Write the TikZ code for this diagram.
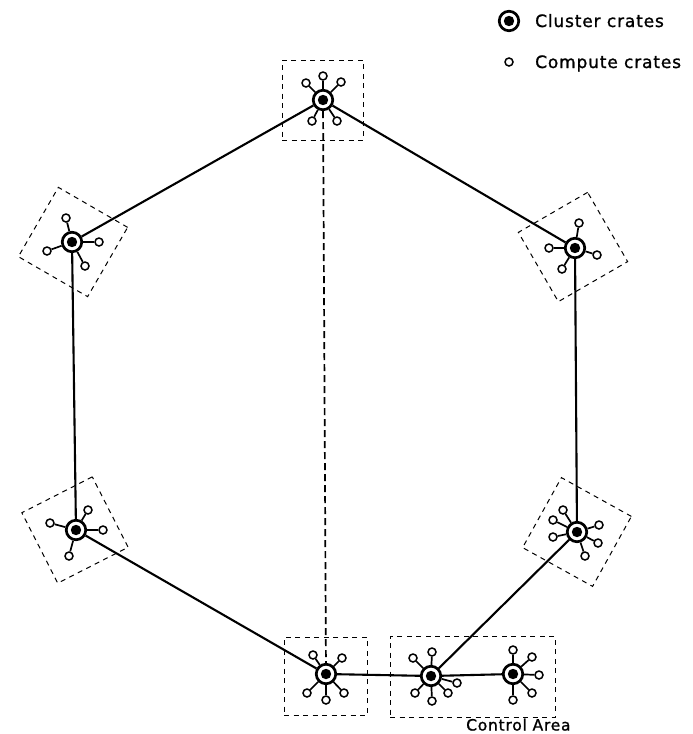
\documentclass[tikz,border=0pt]{standalone}
\usepackage{fontspec}
\setmainfont{DejaVu Sans}
\newfontfamily\lblfont{DejaVu Sans}[LetterSpace=5,FakeBold=1.2]
\begin{document}
\begin{tikzpicture}[x=1pt,y=-1pt,
  cluster/.style={circle,draw=black,line width=2.7pt,minimum size=19.5pt,inner sep=0pt,fill=white,
    path picture={\fill[black] (path picture bounding box.center) circle (5.2pt);}},
  sat/.style={circle,draw,line width=1.5pt,minimum size=8pt,inner sep=0pt,fill=white},
  spoke/.style={line width=1.7pt},
  link/.style={line width=2.1pt},
  vlink/.style={line width=1.7pt,dash pattern=on 7pt off 4pt},
  crate/.style={draw,dash pattern=on 5pt off 4.5pt,line width=1pt,inner sep=0pt},
  lbl/.style={font=\lblfont\fontsize{17}{20}\selectfont,anchor=base west,inner sep=0pt}
]
\useasboundingbox (0,0) rectangle (693,734);

% dashed crate boxes
\node[crate,minimum width=81pt,minimum height=80pt] (bT) at (322.5,100) {};
\node[crate,minimum size=80pt,rotate=-30] (bLU) at (73,242) {};
\node[crate,minimum size=80pt,rotate=30] (bRU) at (573,247) {};
\node[crate,minimum size=79pt,rotate=27] (bLL) at (75,530) {};
\node[crate,minimum size=80pt,rotate=-29] (bRL) at (577,532) {};
\node[crate,minimum width=83pt,minimum height=78pt] (bB) at (325.5,676) {};
\node[crate,minimum width=165pt,minimum height=81pt] (bC) at (472.5,676.5) {};

% cluster crates
\node[cluster] (T) at (323,100) {};
\node[cluster] (LU) at (72,242) {};
\node[cluster] (RU) at (575,248) {};
\node[cluster] (LL) at (76,530) {};
\node[cluster] (RL) at (577,532) {};
\node[cluster] (B) at (326,674) {};
\node[cluster] (CA) at (431,676) {};
\node[cluster] (CB) at (513,674) {};

% compute crates
\newcommand\mysats[2]{%
  \foreach \dx/\dy [count=\i] in {#2} {%
    \node[sat] (#1s\i) at ([shift={(\dx,\dy)}]#1) {};
    \draw[spoke] (#1) -- (#1s\i);
  }}
\mysats{T}{0/-24,-17/-17,18/-18,-11/21,14/21}
\mysats{LU}{-6/-24,27/0,-25/9,13/24}
\mysats{RU}{4/-25,-26/0,22/7,-13/21}
\mysats{LL}{12/-20,-26/-7,27/0,-7/26}
\mysats{RL}{-14/-22,-24/-12,-24/5,22/-7,21/11,8/24}
\mysats{B}{-13/-19,16/-16,-19/19,0/26,18/19}
\mysats{CA}{1/-24,-18/-18,-16/17,1/25,17/17,26/7}
\mysats{CB}{0/-24,19/-17,26/1,19/19,0/26}

% links
\draw[link] (T) -- (LU);
\draw[link] (T) -- (RU);
\draw[link] (LU) -- (LL);
\draw[link] (RU) -- (RL);
\draw[link] (LL) -- (B);
\draw[link] (B) -- (CA);
\draw[link] (CA) -- (RL);
\draw[link] (CA) -- (CB);
\draw[vlink] (T) -- (B);

% legend
\node[cluster] (legC) at (509,21) {};
\node[sat] (legS) at (509,62) {};
\node[lbl] (legCt) at (535,27) {Cluster crates};
\node[lbl] (legSt) at (535,68) {Compute crates};

\node[lbl,font=\lblfont\fontsize{15.5}{18}\selectfont] (ctl) at (466,730.5) {Control Area};
\end{tikzpicture}
\end{document}
